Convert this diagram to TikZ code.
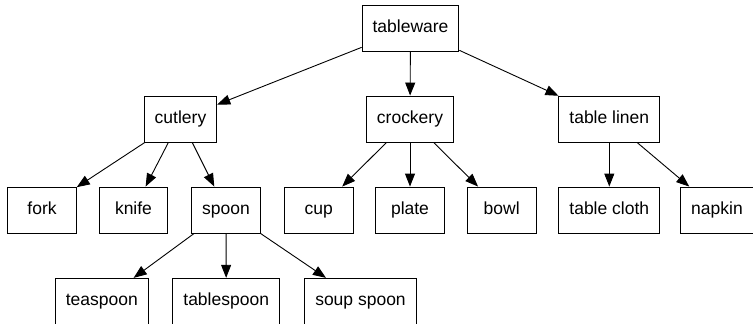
\documentclass[tikz,border=0pt]{standalone}
\usepackage{fontspec}
\setmainfont{Liberation Sans}
\usetikzlibrary{arrows.meta}
\begin{document}
\begin{tikzpicture}[x=1pt,y=-1pt,
  box/.style={draw, line width=0.9pt, minimum height=46pt, minimum width=68.6pt,
    inner xsep=10.5pt, text height=12.6pt, text depth=3.7pt,
    font=\fontsize{17.5}{20}\selectfont},
  edge/.style={line width=0.9pt, -{Triangle[length=13pt,width=10pt]}}]
\useasboundingbox (0,0) rectangle (753,324);
\node[box] (tableware) at (410.5,28) {tableware};
\node[box] (cutlery) at (180.5,119) {cutlery};
\node[box] (crockery) at (410,119) {crockery};
\node[box] (linen) at (609.3,119) {table linen};
\node[box] (fork) at (42,210) {fork};
\node[box] (knife) at (133.5,210) {knife};
\node[box] (spoon) at (226,210) {spoon};
\node[box] (cup) at (318.7,210) {cup};
\node[box] (plate) at (410,210) {plate};
\node[box] (bowl) at (501.7,210) {bowl};
\node[box] (cloth) at (609.3,210) {table cloth};
\node[box] (napkin) at (717,210) {napkin};
\node[box] (teaspoon) at (101.8,301.3) {teaspoon};
\node[box] (tablespoon) at (226.2,301.3) {tablespoon};
\node[box] (soupspoon) at (360.5,301.3) {soup spoon};
\draw[edge] (tableware) -- (cutlery);
\draw[edge] (tableware) -- (crockery);
\draw[edge] (tableware) -- (linen);
\draw[edge] (cutlery) -- (fork);
\draw[edge] (cutlery) -- (knife);
\draw[edge] (cutlery) -- (spoon);
\draw[edge] (crockery) -- (cup);
\draw[edge] (crockery) -- (plate);
\draw[edge] (crockery) -- (bowl);
\draw[edge] (linen) -- (cloth);
\draw[edge] (linen) -- (napkin);
\draw[edge] (spoon) -- (teaspoon);
\draw[edge] (spoon) -- (tablespoon);
\draw[edge] (spoon) -- (soupspoon);
\end{tikzpicture}
\end{document}
